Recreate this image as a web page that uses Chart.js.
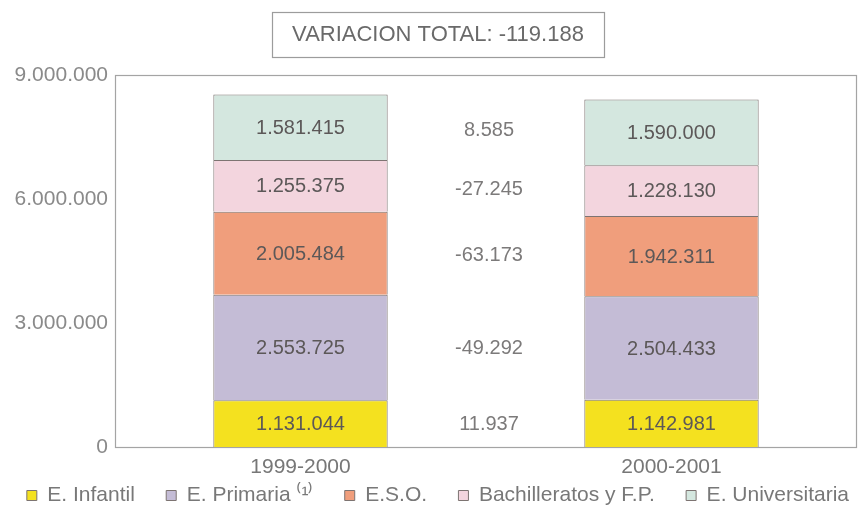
<!DOCTYPE html>
<html>
<head>
<meta charset="utf-8">
<script src="https://cdn.jsdelivr.net/npm/chart.js@4.4.0/dist/chart.umd.min.js"></script>
<style>
  html, body { margin: 0; padding: 0; background: #fff; }
  #wrap { width: 858px; height: 508px; }
</style>
</head>
<body>
<div id="wrap"><canvas id="chart"></canvas></div>
<script>
// ── Data ──────────────────────────────────────────────────
const YEARS         = ['1999-2000', '2000-2001'];
const LEVELS        = ['E. Infantil', 'E. Primaria \u207D\u00B9\u207E', 'E.S.O.', 'Bachilleratos y F.P.', 'E. Universitaria'];
const INFANTIL      = [1131044, 1142981];
const PRIMARIA      = [2553725, 2504433];
const ESO           = [2005484, 1942311];
const BACHILLERATO  = [1255375, 1228130];
const UNIVERSITARIA = [1581415, 1590000];
const Y_TICKS       = [0, 3000000, 6000000, 9000000];

const LEVEL_COLORS = ['#f4e11f', '#c4bcd6', '#f09e7c', '#f3d5de', '#d4e7df'];
const FONT = '"Liberation Sans", Arial, Helvetica, sans-serif';

const SERIES = [INFANTIL, PRIMARIA, ESO, BACHILLERATO, UNIVERSITARIA];
const sum = arr => arr.reduce((a, b) => a + b, 0);
const totalVariation = sum(SERIES.map(s => s[1])) - sum(SERIES.map(s => s[0]));
const TITLE = 'VARIACION TOTAL: ' + fmtEs(totalVariation);

function fmtEs(v) {
  const s = Math.abs(Math.round(v)).toString().replace(/\B(?=(\d{3})+(?!\d))/g, '.');
  return (v < 0 ? '-' : '') + s;
}

// ── Plugins ──────────────────────────────────────────────
const framePlugin = {
  id: 'frame',
  beforeDatasetsDraw(chart) {
    const { ctx, chartArea: a } = chart;
    ctx.save();
    ctx.strokeStyle = '#a4a4a4';
    ctx.lineWidth = 1.2;
    ctx.strokeRect(a.left + 0.5, a.top + 0.5, a.right - a.left - 1, a.bottom - a.top);
    ctx.restore();
  },
};

const valueLabels = {
  id: 'valueLabels',
  afterDatasetsDraw(chart) {
    const { ctx } = chart;
    ctx.save();
    ctx.font = '20px ' + FONT;
    ctx.textAlign = 'center';
    ctx.textBaseline = 'middle';
    chart.data.datasets.forEach((ds, i) => {
      const bars = chart.getDatasetMeta(i).data;
      bars.forEach((el, j) => {
        ctx.fillStyle = '#5c5858';
        ctx.fillText(fmtEs(ds.data[j]), el.x, (el.y + el.base) / 2 + 1);
      });
      // variation between the two school years
      const a = bars[0], b = bars[1];
      ctx.fillStyle = '#7c7a7a';
      ctx.fillText(fmtEs(ds.data[1] - ds.data[0]), (a.x + b.x) / 2 + 3,
        ((a.y + a.base) / 2 + (b.y + b.base) / 2) / 2 + 1);
    });
    ctx.restore();
  },
};

// boxed heading above the plot
const titleBox = {
  id: 'titleBox',
  afterDraw(chart) {
    const { ctx, chartArea } = chart;
    ctx.save();
    ctx.font = '22px ' + FONT;
    const w = ctx.measureText(TITLE).width;
    const cx = chart.width / 2 + 9;
    const cy = chartArea.top - 41;
    ctx.strokeStyle = '#9c9c9c';
    ctx.lineWidth = 1.2;
    ctx.strokeRect(Math.round(cx - w / 2 - 20) + 0.5, Math.round(cy - 22) + 0.5, Math.round(w + 40), 45);
    ctx.fillStyle = '#6a6a6a';
    ctx.textAlign = 'center';
    ctx.textBaseline = 'middle';
    ctx.fillText(TITLE, cx, cy + 1);
    ctx.restore();
  },
};

// ── Chart ────────────────────────────────────────────────
new Chart(document.getElementById('chart'), {
  type: 'bar',
  data: {
    labels: YEARS,
    datasets: SERIES.map((data, i) => ({
      label: LEVELS[i],
      data,
      backgroundColor: LEVEL_COLORS[i],
      borderColor: '#7d7472',
      borderWidth: 1,
      barPercentage: 0.47,
      categoryPercentage: 1,
    })),
  },
  options: {
    responsive: true, maintainAspectRatio: false, animation: false,
    layout: { padding: { left: 0, right: 1, top: 75, bottom: -8 } },
    plugins: {
      tooltip: { enabled: false },
      title: { display: false },
      legend: {
        position: 'bottom',
        align: 'end',
        labels: {
          color: '#787878',
          font: { family: FONT, size: 21 },
          boxWidth: 10, boxHeight: 10,
          padding: 8,
          // wider gaps between entries without growing the legend height
          generateLabels: chart => Chart.defaults.plugins.legend.labels.generateLabels(chart)
            .map((item, i, all) => ({ ...item, text: i < all.length - 1 ? item.text + '    ' : item.text })),
        },
      },
    },
    scales: {
      x: {
        stacked: true,
        grid: { display: false, drawTicks: false },
        border: { display: false },
        afterFit: scale => { scale.height = 30; },
        ticks: { color: '#777', font: { family: FONT, size: 21, lineHeight: 1 }, padding: 10 },
      },
      y: {
        stacked: true,
        min: 0, max: 9000000,
        grid: { display: false, drawTicks: false },
        border: { display: false },
        afterBuildTicks: scale => { scale.ticks = Y_TICKS.map(v => ({ value: v })); },
        afterFit: scale => { scale.width = 115; },
        ticks: { color: '#8a8a8a', font: { family: FONT, size: 21 }, padding: 7, callback: v => fmtEs(v) },
      },
    },
  },
  plugins: [framePlugin, valueLabels, titleBox],
});
</script>
</body>
</html>
